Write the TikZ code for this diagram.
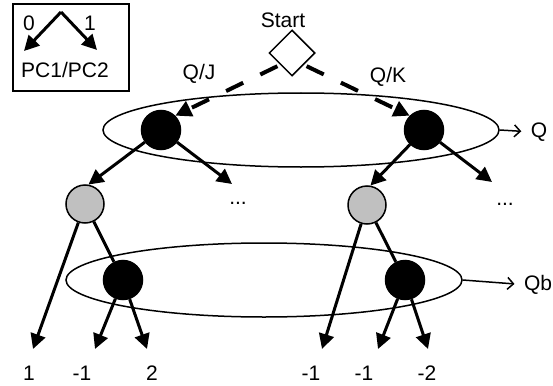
\documentclass[tikz,border=0pt]{standalone}
\usepackage{fontspec}
\setmainfont{Liberation Sans}
\usetikzlibrary{arrows.meta,shapes.geometric}
\definecolor{stategray}{RGB}{192,192,192}
\begin{document}
\begin{tikzpicture}[
    x=1pt, y=-1pt,
    every node/.style={align=center, font=\fontsize{21}{25}\selectfont},
    black state/.style={draw, circle, fill=black, line width=1.5pt, minimum size=39pt, inner sep=0pt},
    gray state/.style={draw, circle, fill=stategray, line width=1.5pt, minimum size=38pt, inner sep=0pt},
    pick box/.style={draw, diamond, line width=1.5pt, minimum width=46pt, minimum height=46pt, inner sep=0pt},
    level ring/.style={draw, ellipse, line width=1.5pt, minimum width=396pt, minimum height=74pt, inner sep=0pt},
    legend box/.style={draw, line width=1.5pt, minimum width=116pt, minimum height=87pt, inner sep=0pt},
    tree arrow/.style={draw, line width=3pt, -{Triangle[length=15pt,width=15pt]}},
    tree line/.style={draw, line width=3pt},
    choice arrow/.style={draw, line width=4pt, dash pattern=on 19pt off 19pt, dash phase=35pt, -{Triangle[length=16pt,width=16pt]}},
    ring arrow/.style={draw, line width=1.5pt, -{Straight Barb[length=6pt,width=12pt]}, shorten >=6pt},
    ]
\useasboundingbox (0,0) rectangle (553,385);
\node[level ring] (RingQ) at (301,130) {};
\node[level ring] (RingQb) at (264,280) {};
\node[legend box] (Legend) at (71,47.5) {};
\coordinate (LegTop) at (61,12);
\coordinate (LegZero) at (24,51);
\coordinate (LegOne) at (97,50);
\node[anchor=base] (LegZeroLabel) at (29,31) {0};
\node[anchor=base] (LegOneLabel) at (90,31) {1};
\node[anchor=base] (LegText) at (65,78) {PC1/PC2};
\draw[tree arrow] (LegTop) -- (LegZero);
\draw[tree arrow] (LegTop) -- (LegOne);
\node[pick box] (Start) at (292,53) {};
\node[anchor=base] (StartLabel) at (283,28) {Start};
\node[anchor=base] (QJLabel) at (199,80) {Q/J};
\node[anchor=base] (QKLabel) at (388,83) {Q/K};
\node[black state] (QJ) at (161,130) {};
\node[black state] (QK) at (424,130) {};
\node[gray state] (QJb) at (85,204) {};
\node[gray state] (QKb) at (367,205) {};
\node[black state] (QJbb) at (123,280) {};
\node[black state] (QKbb) at (405,280) {};
\node[anchor=base] (Q) at (539,137) {Q};
\node[anchor=base] (Qb) at (538,290) {Qb};
\node[anchor=base] (MoreJ) at (238,204) {...};
\node[anchor=base] (MoreK) at (505,205) {...};
\coordinate (MoreJTip) at (232,184);
\coordinate (MoreKTip) at (492,182);
\coordinate (LeafA) at (33,349);
\coordinate (LeafB) at (95,349);
\coordinate (LeafC) at (147,349);
\coordinate (LeafD) at (322,349);
\coordinate (LeafE) at (378,349);
\coordinate (LeafF) at (428,349);
\node[anchor=base] (LeafALabel) at (29,380) {1};
\node[anchor=base] (LeafBLabel) at (82,380) {-1};
\node[anchor=base] (LeafCLabel) at (152,380) {2};
\node[anchor=base] (LeafDLabel) at (311,380) {-1};
\node[anchor=base] (LeafELabel) at (364,380) {-1};
\node[anchor=base] (LeafFLabel) at (427,380) {-2};
\draw[choice arrow] (Start.south west) -- (QJ.north east);
\draw[choice arrow] (Start.south east) -- (QK.north west);
\draw[ring arrow] (RingQ.east) -- (Q.west);
\draw[ring arrow] (RingQb.east) -- (Qb.west);
\draw[tree arrow] (QJ) -- (QJb.80);
\draw[tree arrow] (QJ) -- (MoreJTip);
\draw[tree arrow] (QK) -- (QKb.80);
\draw[tree arrow] (QK) -- (MoreKTip);
\draw[tree arrow] (QJb) -- (LeafA);
\draw[tree line] (QJb) -- (QJbb);
\draw[tree arrow] (QJbb) -- (LeafB);
\draw[tree arrow] (QJbb) -- (LeafC);
\draw[tree arrow] (QKb) -- (LeafD);
\draw[tree line] (QKb) -- (QKbb);
\draw[tree arrow] (QKbb) -- (LeafE);
\draw[tree arrow] (QKbb) -- (LeafF);
\end{tikzpicture}
\end{document}
